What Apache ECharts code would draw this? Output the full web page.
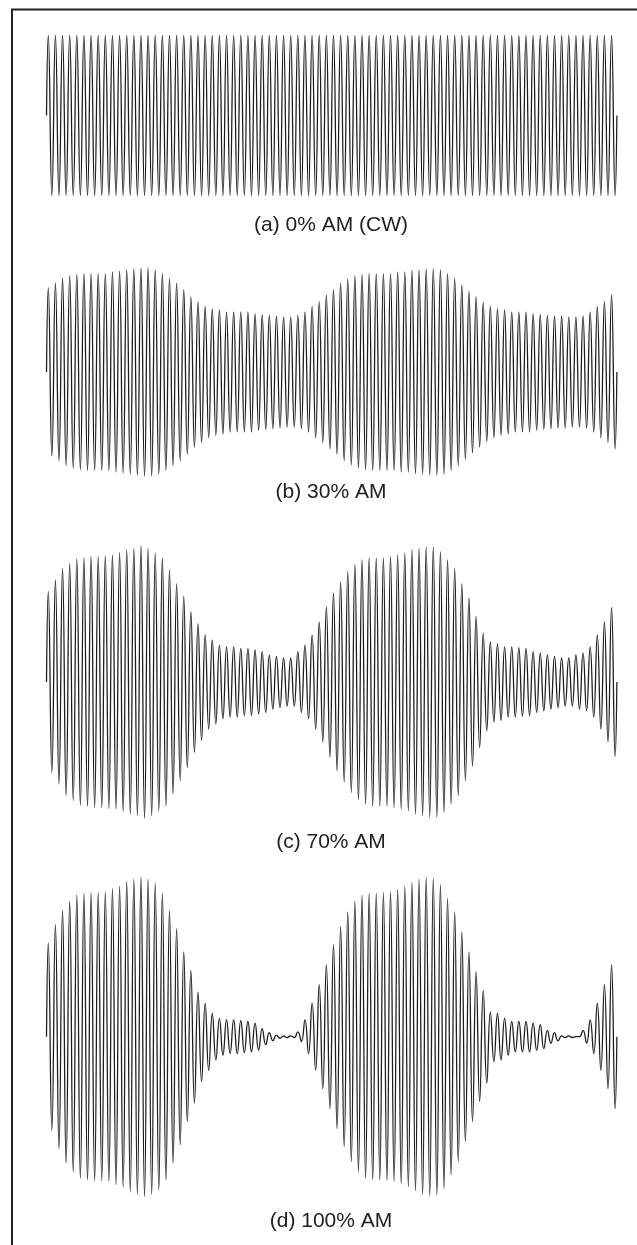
<!DOCTYPE html>
<html>
<head>
<meta charset="utf-8">
<script src="https://cdn.jsdelivr.net/npm/echarts@6/dist/echarts.min.js"></script>
<style>
html,body{margin:0;padding:0;background:#fff;}
#chart{width:637px;height:1245px;}
</style>
</head>
<body>
<div id="chart"></div>
<script>
// Panel captions
var captions = ['(a) 0% AM (CW)', '(b) 30% AM', '(c) 70% AM', '(d) 100% AM'];

// Number of carrier cycles shown in each panel
var cycleCount = 80;

// Envelope (peak amplitude of each carrier cycle, carrier amplitude = 1)
var envA = [
  1,1,1,1,1,1,1,1,1,1, 1,1,1,1,1,1,1,1,1,1,
  1,1,1,1,1,1,1,1,1,1, 1,1,1,1,1,1,1,1,1,1,
  1,1,1,1,1,1,1,1,1,1, 1,1,1,1,1,1,1,1,1,1,
  1,1,1,1,1,1,1,1,1,1, 1,1,1,1,1,1,1,1,1,1
];
var envB = [
  1.05,1.11,1.17,1.20,1.22,1.23,1.23,1.23,1.23,1.25,
  1.26,1.275,1.29,1.30,1.30,1.275,1.23,1.17,1.11,1.025,
  0.94,0.88,0.82,0.79,0.775,0.75,0.75,0.75,0.75,0.73,
  0.72,0.71,0.70,0.69,0.69,0.71,0.75,0.82,0.88,0.96,
  1.025,1.11,1.16,1.20,1.22,1.23,1.23,1.23,1.23,1.25,
  1.25,1.27,1.275,1.29,1.29,1.275,1.23,1.17,1.09,1.01,
  0.94,0.87,0.82,0.79,0.775,0.75,0.75,0.75,0.73,0.72,
  0.71,0.70,0.70,0.69,0.69,0.70,0.75,0.82,0.88,0.96
];
var envC = [
  1.13,1.275,1.42,1.48,1.54,1.55,1.57,1.57,1.58,1.59,
  1.62,1.65,1.67,1.70,1.67,1.61,1.55,1.40,1.23,1.07,
  0.88,0.73,0.59,0.525,0.46,0.44,0.44,0.42,0.42,0.40,
  0.38,0.34,0.32,0.30,0.30,0.38,0.46,0.59,0.75,0.94,
  1.11,1.25,1.38,1.47,1.525,1.55,1.55,1.55,1.57,1.59,
  1.61,1.65,1.67,1.69,1.69,1.63,1.525,1.42,1.23,1.05,
  0.82,0.61,0.50,0.48,0.44,0.44,0.43,0.42,0.38,0.36,
  0.34,0.32,0.30,0.30,0.34,0.36,0.44,0.59,0.75,0.93
];
var envD = [
  1.17,1.40,1.58,1.69,1.77,1.79,1.80,1.80,1.81,1.85,
  1.88,1.94,1.97,2.00,1.97,1.92,1.79,1.58,1.35,1.06,
  0.83,0.56,0.42,0.29,0.23,0.21,0.21,0.20,0.19,0.17,
  0.10,0.05,0.02,0.01,0.01,0.06,0.21,0.42,0.65,0.90,
  1.15,1.375,1.56,1.69,1.77,1.79,1.79,1.80,1.81,1.84,
  1.875,1.925,1.97,1.99,1.98,1.90,1.73,1.56,1.31,1.06,
  0.81,0.58,0.31,0.29,0.23,0.19,0.19,0.19,0.17,0.15,
  0.08,0.05,0.01,0.01,0.00,0.08,0.21,0.42,0.65,0.90
];

var envelopes = [envA, envB, envC, envD];
var yLimits = [1.0, 1.4, 1.8, 2.1];

// Build the carrier trace: each cycle rises to +env and falls to -env
function buildWave(env) {
  var pts = [[0, 0]];
  for (var k = 0; k < env.length; k++) {
    pts.push([k + 0.25, env[k]]);
    pts.push([k + 0.75, -env[k]]);
  }
  pts.push([env.length, 0]);
  return pts;
}

// Layout (pixels)
var pxPerUnit = 80;
var centers = [115.5, 372, 682, 1036.7];
var captionY = [225, 492, 842, 1221];
var plotLeft = 46.5, plotWidth = 570.4;

var grids = [], xAxes = [], yAxes = [], series = [], graphics = [];
for (var i = 0; i < 4; i++) {
  var lim = yLimits[i];
  grids.push({
    left: plotLeft, width: plotWidth,
    top: centers[i] - lim * pxPerUnit, height: 2 * lim * pxPerUnit,
    containLabel: false
  });
  xAxes.push({type: 'value', gridIndex: i, min: 0, max: cycleCount, show: false});
  yAxes.push({type: 'value', gridIndex: i, min: -lim, max: lim, show: false});
  series.push({
    type: 'line', xAxisIndex: i, yAxisIndex: i,
    data: buildWave(envelopes[i]),
    symbol: 'none', smooth: 0.5, animation: false,
    lineStyle: {color: '#1e1e1e', width: 1.3}
  });
  graphics.push({
    type: 'text', x: 331, y: captionY[i],
    style: {
      text: captions[i], fill: '#222',
      font: '21px "Liberation Sans", Arial, sans-serif',
      textAlign: 'center', textVerticalAlign: 'middle'
    }
  });
}
// Scan frame (top and left edges)
graphics.push({type: 'line', shape: {x1: 11, y1: 9.5, x2: 637, y2: 9.5}, style: {stroke: '#222', lineWidth: 2}});
graphics.push({type: 'line', shape: {x1: 12, y1: 9, x2: 12, y2: 1245}, style: {stroke: '#222', lineWidth: 2}});

var chart = echarts.init(document.getElementById('chart'), null, {renderer: 'canvas'});
chart.setOption({
  backgroundColor: '#fff',
  animation: false,
  grid: grids,
  xAxis: xAxes,
  yAxis: yAxes,
  series: series,
  graphic: graphics
});
</script>
</body>
</html>
